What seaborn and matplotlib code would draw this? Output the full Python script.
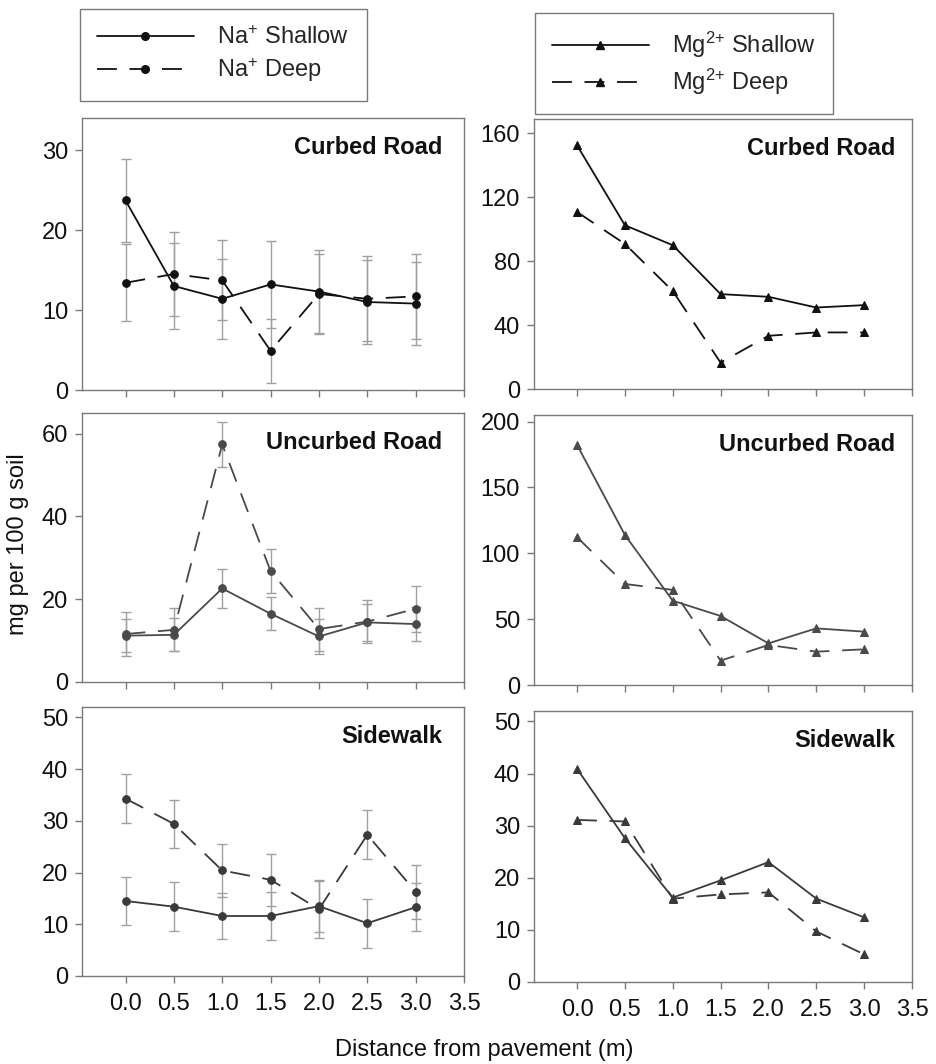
import matplotlib
matplotlib.use('Agg')
import matplotlib.pyplot as plt
from matplotlib.lines import Line2D
import seaborn as sns
import pandas as pd

# distance from pavement (m)
distance = [0.0, 0.5, 1.0, 1.5, 2.0, 2.5, 3.0]
x_ticks = [0.0, 0.5, 1.0, 1.5, 2.0, 2.5, 3.0, 3.5]
sites = ['Curbed Road', 'Uncurbed Road', 'Sidewalk']

# Na+ (mg per 100 g soil), with error bars
na_shallow = {
    'Curbed Road': [23.7, 13.0, 11.4, 13.2, 12.3, 11.0, 10.8],
    'Uncurbed Road': [11.2, 11.4, 22.6, 16.5, 11.0, 14.4, 14.0],
    'Sidewalk': [14.5, 13.4, 11.6, 11.6, 13.5, 10.2, 13.3],
}
na_shallow_err = {
    'Curbed Road': [5.2, 5.4, 5.0, 5.4, 5.2, 5.2, 5.2],
    'Uncurbed Road': [4.0, 4.0, 4.8, 4.0, 4.2, 4.4, 4.2],
    'Sidewalk': [4.7, 4.7, 4.5, 4.7, 5.0, 4.7, 4.6],
}
na_deep = {
    'Curbed Road': [13.4, 14.5, 13.7, 4.9, 12.0, 11.4, 11.7],
    'Uncurbed Road': [11.6, 12.6, 57.4, 26.8, 12.8, 14.6, 17.7],
    'Sidewalk': [34.3, 29.4, 20.4, 18.6, 12.9, 27.3, 16.3],
}
na_deep_err = {
    'Curbed Road': [4.8, 5.3, 5.0, 4.0, 5.0, 5.3, 5.3],
    'Uncurbed Road': [5.2, 5.2, 5.4, 5.3, 5.2, 5.2, 5.5],
    'Sidewalk': [4.8, 4.7, 5.2, 5.0, 5.5, 4.7, 5.2],
}

# Mg2+ (mg per 100 g soil)
mg_shallow = {
    'Curbed Road': [152.5, 102.5, 90.0, 59.4, 57.7, 51.0, 52.5],
    'Uncurbed Road': [182.3, 113.9, 64.0, 52.4, 31.6, 43.0, 40.5],
    'Sidewalk': [40.9, 27.6, 16.2, 19.5, 23.0, 16.0, 12.4],
}
mg_deep = {
    'Curbed Road': [110.8, 90.8, 61.3, 16.5, 33.3, 35.4, 35.4],
    'Uncurbed Road': [112.2, 76.7, 72.2, 18.5, 30.4, 25.3, 27.1],
    'Sidewalk': [31.1, 30.8, 16.0, 16.8, 17.2, 9.7, 5.3],
}

na_yticks = {'Curbed Road': [0, 10, 20, 30], 'Uncurbed Road': [0, 20, 40, 60],
             'Sidewalk': [0, 10, 20, 30, 40, 50]}
na_ylim = {'Curbed Road': 34, 'Uncurbed Road': 65, 'Sidewalk': 52}
mg_yticks = {'Curbed Road': [0, 40, 80, 120, 160], 'Uncurbed Road': [0, 50, 100, 150, 200],
             'Sidewalk': [0, 10, 20, 30, 40, 50]}
mg_ylim = {'Curbed Road': 169, 'Uncurbed Road': 205, 'Sidewalk': 52}

line_colors = {'Curbed Road': '#111111', 'Uncurbed Road': '#4a4a4a', 'Sidewalk': '#3a3a3a'}

sns.set_style('ticks')
plt.rcParams['font.family'] = ['Liberation Sans', 'DejaVu Sans']
plt.rcParams['mathtext.fontset'] = 'custom'
plt.rcParams['mathtext.rm'] = 'Liberation Sans'
plt.rcParams['mathtext.it'] = 'Liberation Sans:italic'
plt.rcParams['mathtext.bf'] = 'Liberation Sans:bold'

W, H = 937, 1064
fig = plt.figure(figsize=(W / 100, H / 100), dpi=100)

# axes boxes in pixels: (top, bottom)
left_rows = [(118, 390), (413, 682), (707, 976)]
right_rows = [(119, 389), (415, 685), (711, 982)]
left_col = (82, 464)
right_col = (534, 912)

DASH = (11, 7)
FS = 17


def make_ax(col, row):
    l, r = col
    t, b = row
    return fig.add_axes([l / W, 1 - b / H, (r - l) / W, (b - t) / H])


def style_ax(ax, yticks, ytop, show_xlabels, title, title_x):
    ax.set_xlim(-0.45, 3.5)
    ax.set_ylim(0, ytop)
    ax.set_xticks(x_ticks)
    ax.set_yticks(yticks)
    ax.set_xlabel('')
    ax.set_ylabel('')
    for s in ax.spines.values():
        s.set_visible(True)
        s.set_color('#7a7a7a')
        s.set_linewidth(1.0)
    ax.tick_params(axis='both', direction='out', length=5, width=1, color='#7a7a7a',
                   labelsize=FS, labelcolor='#111111', bottom=True, left=True,
                   top=False, right=False)
    ax.tick_params(axis='x', pad=7, labelbottom=show_xlabels)
    ax.tick_params(axis='y', pad=5)
    ax.xaxis.set_major_formatter(matplotlib.ticker.FormatStrFormatter('%.1f'))
    ax.text(title_x, 0.89, title, transform=ax.transAxes, ha='right', va='center',
            fontsize=FS, fontweight='bold', color='#111111')


for i, site in enumerate(sites):
    c = line_colors[site]
    show = (i == 2)

    # Na panel
    ax = make_ax(left_col, left_rows[i])
    ax.errorbar(distance, na_shallow[site], yerr=na_shallow_err[site], fmt='none',
                ecolor='#a0a0a0', elinewidth=1, capsize=3.5, zorder=1)
    ax.errorbar(distance, na_deep[site], yerr=na_deep_err[site], fmt='none',
                ecolor='#a0a0a0', elinewidth=1, capsize=3.5, zorder=1)
    df = pd.DataFrame({
        'distance': distance * 2,
        'value': na_shallow[site] + na_deep[site],
        'depth': ['Shallow'] * len(distance) + ['Deep'] * len(distance),
    })
    sns.lineplot(data=df, x='distance', y='value', style='depth',
                 markers={'Shallow': 'o', 'Deep': 'o'},
                 dashes={'Shallow': '', 'Deep': DASH},
                 color=c, markersize=5.5, markeredgecolor=c, linewidth=1.3,
                 legend=False, ax=ax, zorder=3)
    style_ax(ax, na_yticks[site], na_ylim[site], show, site, 0.943)

    # Mg panel
    ax = make_ax(right_col, right_rows[i])
    df = pd.DataFrame({
        'distance': distance * 2,
        'value': mg_shallow[site] + mg_deep[site],
        'depth': ['Shallow'] * len(distance) + ['Deep'] * len(distance),
    })
    sns.lineplot(data=df, x='distance', y='value', style='depth',
                 markers={'Shallow': '^', 'Deep': '^'},
                 dashes={'Shallow': '', 'Deep': DASH},
                 color=c, markersize=5.5, markeredgecolor=c, linewidth=1.3,
                 legend=False, ax=ax, zorder=3)
    style_ax(ax, mg_yticks[site], mg_ylim[site], show, site, 0.955)


def add_legend(marker, labels, x0, y0):
    handles = [
        Line2D([], [], color='#111111', lw=1.3, marker=marker, markersize=5.5),
        Line2D([], [], color='#111111', lw=1.3, marker=marker, markersize=5.5,
               dashes=DASH),
    ]
    leg = fig.legend(handles, labels, loc='upper left',
                     bbox_to_anchor=(x0 / W, 1 - y0 / H), bbox_transform=fig.transFigure,
                     fontsize=FS, frameon=True, fancybox=False, framealpha=1,
                     edgecolor='#7a7a7a', borderaxespad=0, handlelength=4.1,
                     handletextpad=1.0, labelspacing=0.3, borderpad=0.72)
    leg.get_frame().set_linewidth(1.0)


add_legend('o', [r'Na$\mathregular{^{+}}$ Shallow', r'Na$\mathregular{^{+}}$ Deep'], 80, 9)
add_legend('^', [r'Mg$\mathregular{^{2{+}}}$ Shallow', r'Mg$\mathregular{^{2{+}}}$ Deep'], 535, 13)

fig.text(18 / W, 1 - 544 / H, 'mg per 100 g soil', rotation=90, ha='center', va='center',
         fontsize=FS, color='#111111')
fig.text(484 / W, 1 - 1050 / H, 'Distance from pavement (m)', ha='center', va='center',
         fontsize=FS, color='#111111')

fig.savefig('out.png', dpi=100)
